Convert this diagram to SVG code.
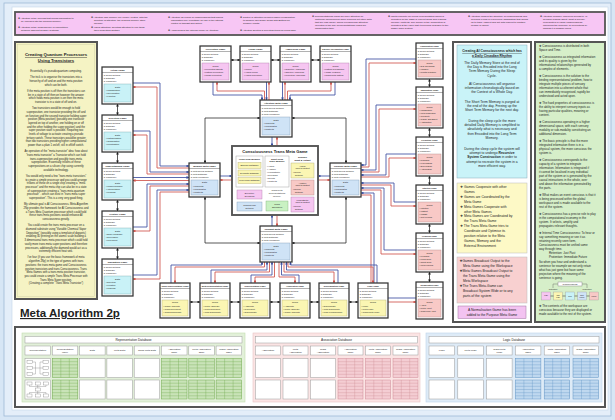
<svg xmlns="http://www.w3.org/2000/svg" width="615" height="420" viewBox="0 0 615 420">
<defs>
<style>
text{font-family:"Liberation Sans","DejaVu Sans",sans-serif;fill:#222}
.nb{fill:#fff;stroke:#333;stroke-width:1.25}
.hd{font-size:2.4px;font-weight:bold;text-anchor:middle}
.hs{font-size:2.05px;font-weight:bold;text-anchor:middle}
.it{font-size:2.15px}
.dt{font-size:2.4px;text-anchor:middle}
.sep{stroke:#3a3a3a;stroke-width:0.4}
.cy{fill:#c9f2f7;stroke:#7aaab0;stroke-width:0.4}
.pk{fill:#f6c6f1;stroke:#b07aa8;stroke-width:0.4}
.sa{fill:#f8c9c6;stroke:#b08886;stroke-width:0.4}
.ye{fill:#fbf6b3;stroke:#b0aa70;stroke-width:0.4}
.bl{fill:#cfe3f6;stroke:#7f9ab5;stroke-width:0.4}
.gr{fill:#c9f1c2;stroke:#7fae78;stroke-width:0.4}
.cb{fill:none;stroke:#3d4fa0;stroke-width:0.85}
.cr{fill:none;stroke:#d0544c;stroke-width:0.85}
.ck{fill:none;stroke:#222;stroke-width:0.75}
.bn{font-size:2.45px}
.lp{font-size:2.7px;text-anchor:middle}
.pt{font-size:3.35px}
.gt{font-size:2.95px}
.dbh{font-size:3.2px;text-anchor:middle}
.ch{font-size:2.45px;text-anchor:middle}
.cell{fill:#fff;stroke:#9a9a9a;stroke-width:0.5}
.ci{font-size:2.2px;text-anchor:middle}
.cib{font-size:2.3px;text-anchor:middle;font-weight:bold}
.fr{stroke:#555;stroke-width:2}
</style>
<marker id="mb" viewBox="0 0 4 4" refX="3.6" refY="2" markerWidth="2.8" markerHeight="2.8" orient="auto-start-reverse" markerUnits="userSpaceOnUse"><path d="M0,0 L4,2 L0,4z" fill="#3d4fa0"/></marker>
<marker id="mr" viewBox="0 0 4 4" refX="3.6" refY="2" markerWidth="2.8" markerHeight="2.8" orient="auto-start-reverse" markerUnits="userSpaceOnUse"><path d="M0,0 L4,2 L0,4z" fill="#d0544c"/></marker>
<marker id="mk" viewBox="0 0 4 4" refX="3.6" refY="2" markerWidth="2.8" markerHeight="2.8" orient="auto-start-reverse" markerUnits="userSpaceOnUse"><path d="M0,0 L4,2 L0,4z" fill="#222"/></marker>
<g id="tg"><rect width="25.5" height="19" fill="#c9e3b8" stroke="#6fa84b" stroke-width="0.5"/><path d="M0,3.2H25.5M0,6.3H25.5M0,9.5H25.5M0,12.7H25.5M0,15.8H25.5M8.5,0V19M17,0V19" stroke="#6fa84b" stroke-width="0.35"/></g>
<g id="tp"><rect width="25" height="19" fill="#f4cdd3" stroke="#cf8a95" stroke-width="0.5"/><path d="M0,3.2H25M0,6.3H25M0,9.5H25M0,12.7H25M0,15.8H25M8.3,0V19M16.7,0V19" stroke="#cf8a95" stroke-width="0.35"/></g>
<g id="tb"><rect width="25.5" height="19" fill="#bfd8ef" stroke="#5f93c4" stroke-width="0.5"/><path d="M0,3.2H25.5M0,6.3H25.5M0,9.5H25.5M0,12.7H25.5M0,15.8H25.5M8.5,0V19M17,0V19" stroke="#5f93c4" stroke-width="0.35"/></g>
</defs>

<!-- background frame -->
<rect x="0" y="0" width="615" height="420" fill="#d7e6f5"/>
<rect x="4" y="3" width="607" height="413" fill="#e4eef9" stroke="#9fb9d6" stroke-width="0.8"/>
<rect x="12" y="7" width="596" height="403" fill="#fff" stroke="#c4d5e8" stroke-width="0.6"/>

<!-- top banner -->
<g id="attention-notes">
<rect x="15" y="12" width="590" height="23" fill="#f7c6f4" stroke="#555" stroke-width="1.8"/>
<text class="bn"><tspan x="18" y="18.5">✥ Attention is the process that allows information to</tspan><tspan x="21" y="21.5">be encoded into the working memory.</tspan><tspan x="18" y="28">✥ Attention is the consequence of competition</tspan><tspan x="21" y="31">between different sensory systems.</tspan></text>
<text class="bn"><tspan x="91" y="17.5">✥ Attention and memory are closely related, with the</tspan><tspan x="94" y="20.5">direction of attention, the working memory store</tspan><tspan x="94" y="23.5">memory.</tspan><tspan x="91" y="28">✥ Visual attention: directing attention to one thing,</tspan><tspan x="94" y="31">then neglecting another.</tspan></text>
<text class="bn"><tspan x="168" y="18">✥ Attention as a form of consciousness that makes</tspan><tspan x="171" y="21">information fully reportable for use in the rational</tspan><tspan x="171" y="24">control of thought and action.</tspan><tspan x="168" y="31">✥ Awareness is the Internal Model of Attention.</tspan></text>
<text class="bn"><tspan x="240" y="18">✥ Control of attention needs dynamic collaboration</tspan><tspan x="243" y="21">to balance Top Down Goals with Bottom Up</tspan><tspan x="243" y="24">Sensory Inputs.</tspan><tspan x="240" y="31">✥ Attention Excited is selecting items for being gain.</tspan></text>
<text class="bn"><tspan x="312" y="17">✥ Representational Maps will have attention on</tspan><tspan x="315" y="20">particular phenomenon while blocking out other data</tspan><tspan x="315" y="23">that are less useful, which explains how attention</tspan><tspan x="315" y="26">operates in the way Representational Maps are</tspan><tspan x="315" y="29">manipulated then.</tspan></text>
<text class="bn"><tspan x="388" y="17">✥ Inputs compete for neural representation which is</tspan><tspan x="391" y="20">allocated on the basis of current goals and learning</tspan><tspan x="391" y="23">memory contexts. The winner of the competition is</tspan><tspan x="391" y="26">allocated at the value that it becomes available to the</tspan><tspan x="391" y="29">higher order system.</tspan></text>
<text class="bn"><tspan x="468" y="17">✥ Attention models the structure of consciousness and</tspan><tspan x="471" y="20">provides a kind of experience highlighting that allows</tspan><tspan x="471" y="23">us to track, inspect and act with respect to another</tspan><tspan x="471" y="26">person or object.</tspan></text>
<text class="bn"><tspan x="540" y="17">✥ Attention is simply improved access to, or</tspan><tspan x="543" y="20">decision making about, what is already</tspan><tspan x="543" y="23">represented in visual consciousness,</tspan><tspan x="543" y="26">improving the accuracy of perceptions by</tspan><tspan x="543" y="29">making it a possible focus.</tspan></text>
</g>

<!-- left panel -->
<g id="quantum-processors-note">
<rect class="fr" x="15" y="42" width="82" height="257" fill="#f5f3c4"/>
<rect x="17.5" y="44.5" width="77" height="252" fill="none" stroke="#c8c8a0" stroke-width="0.4"/>
<text x="56" y="56" style="font-size:4.3px;font-weight:bold;text-anchor:middle;text-decoration:underline">Creating Quantum Processors</text>
<text x="56" y="61.5" style="font-size:4.3px;font-weight:bold;text-anchor:middle;text-decoration:underline">Using Transistors</text>
<text class="lp"><tspan x="56" y="72">Essentially it's pseudo quantum computing.</tspan><tspan x="56" dy="6.2">The trick is to organise the transistors into a</tspan><tspan x="56" dy="3.7">hierarchy of off and on and the meta position</tspan><tspan x="56" dy="3.7">which can be both.</tspan><tspan x="56" dy="6.2">If the meta position is off then the transistors can</tspan><tspan x="56" dy="3.7">be in a state of off then on however the answer</tspan><tspan x="56" dy="3.7">which holds meta position is on then the meta</tspan><tspan x="56" dy="3.7">transistor is in a state of off and on.</tspan><tspan x="56" dy="6.2">Two transistors would be enough to hold</tspan><tspan x="56" dy="3.7">superposition, one transistor providing the off and</tspan><tspan x="56" dy="3.7">on function and the second transistor holding super</tspan><tspan x="56" dy="3.7">position (Meta position) (possibly one transistor</tspan><tspan x="56" dy="3.7">layered on top of another, one holding on or off</tspan><tspan x="56" dy="3.7">and the other holding the super position) and the</tspan><tspan x="56" dy="3.7">super position state is possible. Requiring two</tspan><tspan x="56" dy="3.7">levels of voltage to activate creating a pseudo</tspan><tspan x="56" dy="3.7">tertiary switch. These transistors would be greater</tspan><tspan x="56" dy="3.7">than two transistors providing higher computational</tspan><tspan x="56" dy="3.7">power than a plain 1 on/off, still in off/off switch.</tspan><tspan x="56" dy="6.2">An operation of the "meta-transistor" idea: how about</tspan><tspan x="56" dy="3.7">"trans meta transistor" a Transistor which can hold</tspan><tspan x="56" dy="3.7">trans-superposition and possibly trans-meta</tspan><tspan x="56" dy="3.7">superposition. Essentially trillions of these</tspan><tspan x="56" dy="3.7">superpositions on a silicon chip using currently</tspan><tspan x="56" dy="3.7">available technology.</tspan><tspan x="56" dy="6.2">You would only need a few "trans meta transistors"</tspan><tspan x="56" dy="3.7">to create a simple processor and you could arrange</tspan><tspan x="56" dy="3.7">trillions of these on a single chip creating a "meta</tspan><tspan x="56" dy="3.7">processor" and the meta chip can also be in a state</tspan><tspan x="56" dy="3.7">of superposition creating a "trans meta quantum</tspan><tspan x="56" dy="3.7">processor" - which can exist in "trans meta super</tspan><tspan x="56" dy="3.7">superposition". This is a very very good thing.</tspan><tspan x="56" dy="6.2">My ultimate goal is AI Consciousness. Meta Algorithm</tspan><tspan x="56" dy="3.7">2Np provides the framework for AI Consciousness and</tspan><tspan x="56" dy="3.7">a Trans Meta Quantum processor which could hold</tspan><tspan x="56" dy="3.7">these trans meta positions would enhance AI</tspan><tspan x="56" dy="3.7">consciousness greatly.</tspan><tspan x="56" dy="6.2">You could create the trans meta processor on a</tspan><tspan x="56" dy="3.7">diamond substrate using "Variable Chemical Vapor</tspan><tspan x="56" dy="3.7">Deposition" (possibly using a template of dopants)</tspan><tspan x="56" dy="3.7">enabling 3D printing on the atomic scale building a</tspan><tspan x="56" dy="3.7">3 dimensional trans meta processor which could hold</tspan><tspan x="56" dy="3.7">vastly more trans meta super positions and therefore</tspan><tspan x="56" dy="3.7">processors, additionally the diamond would act as a</tspan><tspan x="56" dy="3.7">extremely efficient heat sink.</tspan><tspan x="56" dy="6.2">I've four (if you use the basic framework of meta</tspan><tspan x="56" dy="3.7">algorithm 2Np) in the type of games with trans</tspan><tspan x="56" dy="3.7">positions: the trans meta game and Consciousness</tspan><tspan x="56" dy="3.7">position transistors and trans Consciousness. Trans</tspan><tspan x="56" dy="3.7">Meta Games with a trans meta position transistor,</tspan><tspan x="56" dy="3.7">you could create a simple Trans Meta Processor with</tspan><tspan x="56" dy="3.7">Trans Meta Super position.</tspan><tspan x="56" dy="3.7">(Creating a complete "Trans Meta Transistor")</tspan></text>
</g>

<!-- connectors -->
<g id="connectors">
<path class="cb" d="M213,82V95H262V100" marker-end="url(#mb)"/>
<path class="cr" d="M217,82V91H264.5V100" marker-start="url(#mr)"/>
<path class="cb" d="M266.5,82V100" marker-end="url(#mb)"/>
<path class="cr" d="M269,82V100" marker-start="url(#mr)"/>
<path class="cb" d="M282.5,82V100" marker-end="url(#mb)"/>
<path class="cr" d="M285,82V100" marker-start="url(#mr)"/>
<path class="cr" d="M331,82V91H287.5V100" marker-start="url(#mr)"/>
<path class="cb" d="M335,82V95H290V100" marker-end="url(#mb)"/>
<path class="cb" d="M272,137V146" marker-end="url(#mb)"/>
<path class="cr" d="M277,137V146" marker-start="url(#mr)"/>
<path class="cb" d="M220,176H232" marker-end="url(#mb)"/>
<path class="cr" d="M220,180H232" marker-start="url(#mr)"/>
<path class="cb" d="M330,176H318" marker-end="url(#mb)"/>
<path class="cr" d="M330,180H318" marker-start="url(#mr)"/>
<path class="cb" d="M272,226V215" marker-end="url(#mb)"/>
<path class="cr" d="M277,226V215" marker-start="url(#mr)"/>
<path class="ck" d="M260,118H205V163" marker-start="url(#mk)" marker-end="url(#mk)"/>
<path class="ck" d="M292,118H346V163" marker-start="url(#mk)" marker-end="url(#mk)"/>
<path class="ck" d="M205,197V243H260" marker-start="url(#mk)" marker-end="url(#mk)"/>
<path class="ck" d="M346,197V243H292" marker-start="url(#mk)" marker-end="url(#mk)"/>
<path class="cb" d="M133,83H160V166H189" marker-end="url(#mb)"/>
<path class="cr" d="M133,87H157V168H189" marker-start="url(#mr)"/>
<path class="cb" d="M133,131H150V172H189" marker-end="url(#mb)"/>
<path class="cr" d="M133,135H147V174H189" marker-start="url(#mr)"/>
<path class="cb" d="M133,177.5H189" marker-end="url(#mb)"/>
<path class="cr" d="M133,180.5H189" marker-start="url(#mr)"/>
<path class="cb" d="M133,227H147V184H189" marker-end="url(#mb)"/>
<path class="cr" d="M133,231H150V186H189" marker-start="url(#mr)"/>
<path class="cb" d="M133,275H157V190H189" marker-end="url(#mb)"/>
<path class="cr" d="M133,279H160V192H189" marker-start="url(#mr)"/>
<path class="cb" d="M416,59H366V165H361" marker-end="url(#mb)"/>
<path class="cr" d="M416,63H369V167H361" marker-start="url(#mr)"/>
<path class="cb" d="M416,105H376V170H361" marker-end="url(#mb)"/>
<path class="cr" d="M416,109H379V172H361" marker-start="url(#mr)"/>
<path class="cb" d="M416,154H386V175H361" marker-end="url(#mb)"/>
<path class="cr" d="M416,158H389V177H361" marker-start="url(#mr)"/>
<path class="cb" d="M416,202H394V183H361" marker-end="url(#mb)"/>
<path class="cr" d="M416,206H391V185H361" marker-start="url(#mr)"/>
<path class="cb" d="M416,250H384V188H361" marker-end="url(#mb)"/>
<path class="cr" d="M416,254H381V190H361" marker-start="url(#mr)"/>
<path class="cb" d="M416,298H374V193H361" marker-end="url(#mb)"/>
<path class="cr" d="M416,302H371V195H361" marker-start="url(#mr)"/>
<path class="cb" d="M171,283V265H262V262" marker-end="url(#mb)"/>
<path class="cr" d="M175,283V267H264.5V262" marker-start="url(#mr)"/>
<path class="cb" d="M211,283V270H267V262" marker-end="url(#mb)"/>
<path class="cr" d="M215,283V272H269.5V262" marker-start="url(#mr)"/>
<path class="cb" d="M251,283V275H272V262" marker-end="url(#mb)"/>
<path class="cr" d="M255,283V277H274.5V262" marker-start="url(#mr)"/>
<path class="cr" d="M295,283V277H279V262" marker-start="url(#mr)"/>
<path class="cb" d="M299,283V275H281.5V262" marker-end="url(#mb)"/>
<path class="cr" d="M334,283V272H284V262" marker-start="url(#mr)"/>
<path class="cb" d="M338,283V270H286.5V262" marker-end="url(#mb)"/>
<path class="cr" d="M373,283V267H288V262" marker-start="url(#mr)"/>
<path class="cb" d="M377,283V265H290.5V262" marker-end="url(#mb)"/>
<path class="ck" d="M231,60H240" marker-start="url(#mk)" marker-end="url(#mk)"/>
<path class="ck" d="M271,60H280" marker-start="url(#mk)" marker-end="url(#mk)"/>
<path class="ck" d="M311,60H320" marker-start="url(#mk)" marker-end="url(#mk)"/>
<path class="ck" d="M117.5,104V115" marker-start="url(#mk)" marker-end="url(#mk)"/>
<path class="ck" d="M117.5,152V163" marker-start="url(#mk)" marker-end="url(#mk)"/>
<path class="ck" d="M117.5,200V211" marker-start="url(#mk)" marker-end="url(#mk)"/>
<path class="ck" d="M117.5,248V259" marker-start="url(#mk)" marker-end="url(#mk)"/>
<path class="ck" d="M429.5,79V87" marker-start="url(#mk)" marker-end="url(#mk)"/>
<path class="ck" d="M429.5,128V137" marker-start="url(#mk)" marker-end="url(#mk)"/>
<path class="ck" d="M429.5,176V185" marker-start="url(#mk)" marker-end="url(#mk)"/>
<path class="ck" d="M429.5,224V233" marker-start="url(#mk)" marker-end="url(#mk)"/>
<path class="ck" d="M429.5,272V282" marker-start="url(#mk)" marker-end="url(#mk)"/>
<path class="ck" d="M190,302H200" marker-start="url(#mk)" marker-end="url(#mk)"/>
<path class="ck" d="M230,302H240" marker-start="url(#mk)" marker-end="url(#mk)"/>
<path class="ck" d="M270,302H280" marker-start="url(#mk)" marker-end="url(#mk)"/>
<path class="ck" d="M310,302H319" marker-start="url(#mk)" marker-end="url(#mk)"/>
<path class="ck" d="M349,302H358" marker-start="url(#mk)" marker-end="url(#mk)"/>
</g>

<!-- top row games -->
<g id="perception-game"><rect class="nb" x="200" y="46" width="31" height="36"/><text class="hd" x="215.5" y="50">Perception Game</text><line class="sep" x1="200" y1="51.5" x2="231" y2="51.5"/><text class="it" x="202" y="55">▸ Neural Network</text><text class="it" x="202" y="58">▸ Database</text><text class="it" x="202" y="61">▸ Workspace</text><rect class="pk" x="202" y="63" width="27" height="17"/><text class="dt" x="215.5" y="66.5">Rules</text><text class="it" x="204" y="70">• Perceptual Effects</text><text class="it" x="204" y="73">• Pattern Perception</text><text class="it" x="204" y="76">• Cross Perception</text></g>
<g id="visual-game"><rect class="nb" x="240" y="46" width="31" height="36"/><text class="hd" x="255.5" y="50">Visual Game</text><line class="sep" x1="240" y1="51.5" x2="271" y2="51.5"/><text class="it" x="242" y="55">▸ Neural Network</text><text class="it" x="242" y="58">▸ Database</text><text class="it" x="242" y="61">▸ Workspace</text><rect class="pk" x="242" y="63" width="27" height="17"/><text class="dt" x="255.5" y="66.5">Rules</text><text class="it" x="244" y="70">• Colour</text><text class="it" x="244" y="73">• Visual Focus</text><text class="it" x="244" y="76">• Visual Perception</text></g>
<g id="awareness-game"><rect class="nb" x="280" y="46" width="31" height="36"/><text class="hd" x="295.5" y="50">Awareness Game</text><line class="sep" x1="280" y1="51.5" x2="311" y2="51.5"/><text class="it" x="282" y="55">▸ Neural Network</text><text class="it" x="282" y="58">▸ Database</text><text class="it" x="282" y="61">▸ Workspace</text><rect class="pk" x="282" y="63" width="27" height="17"/><text class="dt" x="295.5" y="66.5">Rules</text><text class="it" x="284" y="70" style="font-size:2px">• Subjective Awareness</text><text class="it" x="284" y="73" style="font-size:2px">• Objective Awareness</text><text class="it" x="284" y="76" style="font-size:2px">• Perceptual Awareness</text></g>
<g id="salience-recognition-game"><rect class="nb" x="320" y="46" width="31" height="36"/><text class="hs" x="335.5" y="50">Salience Recognition Game</text><line class="sep" x1="320" y1="51.5" x2="351" y2="51.5"/><text class="it" x="322" y="55">▸ Neural Network</text><text class="it" x="322" y="58">▸ Database</text><text class="it" x="322" y="61">▸ Workspace</text><rect class="pk" x="322" y="63" width="27" height="17"/><text class="dt" x="335.5" y="66.5">Rules</text><text class="it" x="324" y="70">• Pattern Recognition</text><text class="it" x="324" y="73">• Image Features</text><text class="it" x="324" y="76">• Trans Meta Pattern</text></g>

<!-- meta games -->
<g id="attention-meta-game"><rect class="nb" x="260" y="100" width="32" height="37"/><text class="hd" x="276" y="104">Attention Meta Game</text><line class="sep" x1="260" y1="105.5" x2="292" y2="105.5"/><text class="it" x="262" y="109">▸ Meta Neural Network</text><text class="it" x="262" y="112">▸ Meta Database</text><text class="it" x="262" y="115">▸ Meta Workspace</text><rect class="bl" x="262" y="117" width="28" height="18"/><text class="dt" x="276" y="120.5">Data</text><text class="it" x="264" y="124">• Concepts</text><text class="it" x="264" y="127">• Coordinates</text><text class="it" x="264" y="130">• Contexts</text></g>
<g id="memory-meta-game"><rect class="nb" x="189" y="163" width="31" height="34"/><text class="hd" x="204.5" y="167">Memory Meta Game</text><line class="sep" x1="189" y1="168.5" x2="220" y2="168.5"/><text class="it" x="191" y="172">▸ Meta Neural Network</text><text class="it" x="191" y="175">▸ Meta Database</text><text class="it" x="191" y="178">▸ Meta Workspace</text><rect class="bl" x="191" y="180" width="27" height="15"/><text class="dt" x="204.5" y="183.3">Data</text><text class="it" x="193" y="186.6">• Concepts</text><text class="it" x="193" y="189.6">• Coordinates</text><text class="it" x="193" y="192.6">• Contexts</text></g>
<g id="purpose-meta-game"><rect class="nb" x="330" y="163" width="31" height="34"/><text class="hd" x="345.5" y="167">Purpose Meta Game</text><line class="sep" x1="330" y1="168.5" x2="361" y2="168.5"/><text class="it" x="332" y="172">▸ Meta Neural Network</text><text class="it" x="332" y="175">▸ Meta Database</text><text class="it" x="332" y="178">▸ Meta Workspace</text><rect class="bl" x="332" y="180" width="27" height="15"/><text class="dt" x="345.5" y="183.3">Data</text><text class="it" x="334" y="186.6">• Concepts</text><text class="it" x="334" y="189.6">• Coordinates</text><text class="it" x="334" y="192.6">• Contexts</text></g>
<g id="thought-meta-game"><rect class="nb" x="260" y="226" width="32" height="36"/><text class="hd" x="276" y="230">Thought Meta Game</text><line class="sep" x1="260" y1="231.5" x2="292" y2="231.5"/><text class="it" x="262" y="235">▸ Meta Neural Network</text><text class="it" x="262" y="238">▸ Meta Database</text><text class="it" x="262" y="241">▸ Meta Workspace</text><rect class="bl" x="262" y="243" width="28" height="17"/><text class="dt" x="276" y="246.5">Data</text><text class="it" x="264" y="250">• Concepts</text><text class="it" x="264" y="253">• Coordinates</text><text class="it" x="264" y="256">• Contexts</text></g>

<!-- consciousness trans meta game -->
<g id="consciousness-trans-meta-game">
<rect x="232" y="146" width="86" height="69" fill="#fff" stroke="#555" stroke-width="1.9"/>
<text x="275" y="153" style="font-size:4.1px;font-weight:bold;text-anchor:middle">Consciousness Trans Meta Game</text>
<rect x="236" y="156" width="27" height="31" fill="#fff" stroke="#9a9a9a" stroke-width="0.45"/>
<text class="cib" x="249.5" y="160">Long Term Memory</text>
<rect class="ye" x="238" y="162.5" width="23" height="6"/><text class="ci" x="249.5" y="166.3">Episodic Database</text>
<rect class="ye" x="238" y="170" width="23" height="6"/><text class="ci" x="249.5" y="173.8">Semantic Database</text>
<rect class="ye" x="238" y="177.5" width="23" height="6"/><text class="ci" x="249.5" y="181.3">Procedural Database</text>
<rect class="pk" x="237" y="190" width="25" height="9"/><text class="ci" x="249.5" y="193.8">Executive</text><text class="ci" x="249.5" y="196.6">Decisions</text>
<rect class="bl" x="237" y="202" width="25" height="9"/><text class="ci" x="249.5" y="205.8">Trans Neural</text><text class="ci" x="249.5" y="208.6">Network</text>
<rect x="265" y="156" width="24" height="31" fill="#fff" stroke="#9a9a9a" stroke-width="0.45"/>
<text class="cib" x="277" y="159.5">Short Term</text><text class="cib" x="277" y="162.3">Daily Memory</text>
<text class="it" x="267" y="166.5">• Visual</text><text class="it" x="267" y="169.5">• Auditory</text><text class="it" x="267" y="172.5">• Kinaesthetic</text><text class="it" x="267" y="175.5">• Decisions</text><text class="it" x="267" y="178.5">• Events</text><text class="it" x="267" y="181.5">• Contexts</text>
<text class="ci" x="277" y="191">Trans Meta</text><text class="ci" x="277" y="194">Representational</text><text class="ci" x="277" y="197">Memory</text>
<rect class="gr" x="266" y="201" width="22" height="10"/><text class="ci" x="277" y="205.3">Trans</text><text class="ci" x="277" y="208.3">Simulation</text>
<text class="cib" x="302.5" y="157.5">Sensory</text><text class="cib" x="302.5" y="160.5">Input &amp; Output</text>
<rect class="ye" x="291" y="163" width="23" height="15"/><text class="ci" x="302.5" y="166.5">Visual</text><text class="ci" x="302.5" y="169.3">Input &amp; Output</text><text class="it" x="293" y="173">• Neural</text><text class="it" x="295" y="175.8">Network</text>
<rect class="sa" x="291" y="180" width="23" height="15"/><text class="ci" x="302.5" y="183.5">Auditory</text><text class="ci" x="302.5" y="186.3">Input &amp; Output</text><text class="it" x="293" y="190">• Neural</text><text class="it" x="295" y="192.8">Network</text>
<rect class="pk" x="291" y="197" width="23" height="15"/><text class="ci" x="302.5" y="200.5">Kinaesthetic</text><text class="ci" x="302.5" y="203.3">Input &amp; Output</text><text class="it" x="293" y="207">• Neural</text><text class="it" x="295" y="209.8">Network</text>
</g>

<!-- left column games -->
<g id="action-game"><rect class="nb" x="102" y="67" width="31" height="37"/><text class="hd" x="117.5" y="71">Action Game</text><line class="sep" x1="102" y1="72.5" x2="133" y2="72.5"/><text class="it" x="104" y="76">▸ Neural Network</text><text class="it" x="104" y="79">▸ Database</text><text class="it" x="104" y="82">▸ Workspace</text><rect class="cy" x="104" y="84" width="27" height="18"/><text class="dt" x="117.5" y="87.5">Data</text><text class="it" x="106" y="91">• Classification</text><text class="it" x="106" y="94">• Specification</text><text class="it" x="106" y="97">• Function</text></g>
<g id="selection-game"><rect class="nb" x="102" y="115" width="31" height="37"/><text class="hd" x="117.5" y="119">Selection Game</text><line class="sep" x1="102" y1="120.5" x2="133" y2="120.5"/><text class="it" x="104" y="124">▸ Neural Network</text><text class="it" x="104" y="127">▸ Database</text><text class="it" x="104" y="130">▸ Workspace</text><rect class="cy" x="104" y="132" width="27" height="18"/><text class="dt" x="117.5" y="135.5">Data</text><text class="it" x="106" y="139">• Categorisation</text><text class="it" x="106" y="142">• Organisation</text><text class="it" x="106" y="145">• Prioritisation</text></g>
<g id="understanding-game"><rect class="nb" x="102" y="163" width="31" height="37"/><text class="hd" x="117.5" y="167">Understanding Game</text><line class="sep" x1="102" y1="168.5" x2="133" y2="168.5"/><text class="it" x="104" y="172">▸ Neural Network</text><text class="it" x="104" y="175">▸ Database</text><text class="it" x="104" y="178">▸ Workspace</text><rect class="cy" x="104" y="180" width="27" height="18"/><text class="dt" x="117.5" y="183.5">Data</text><text class="it" x="106" y="187">• Comprehension</text><text class="it" x="106" y="190">• Interpretation</text><text class="it" x="106" y="193">• Meaning</text></g>
<g id="gesture-game"><rect class="nb" x="102" y="211" width="31" height="37"/><text class="hd" x="117.5" y="215">Gesture Game</text><line class="sep" x1="102" y1="216.5" x2="133" y2="216.5"/><text class="it" x="104" y="220">▸ Neural Network</text><text class="it" x="104" y="223">▸ Database</text><text class="it" x="104" y="226">▸ Workspace</text><rect class="cy" x="104" y="228" width="27" height="18"/><text class="dt" x="117.5" y="231.5">Data</text><text class="it" x="106" y="235">• Body Language</text><text class="it" x="106" y="238">• Expression</text><text class="it" x="106" y="241">• Movement</text></g>
<g id="navigation-game"><rect class="nb" x="102" y="259" width="31" height="37"/><text class="hd" x="117.5" y="263">Navigation Game</text><line class="sep" x1="102" y1="264.5" x2="133" y2="264.5"/><text class="it" x="104" y="268">▸ Neural Network</text><text class="it" x="104" y="271">▸ Database</text><text class="it" x="104" y="274">▸ Workspace</text><rect class="cy" x="104" y="276" width="27" height="18"/><text class="dt" x="117.5" y="279.5">Data</text><text class="it" x="106" y="283">• Direction</text><text class="it" x="106" y="286">• Location</text><text class="it" x="106" y="289">• Mapping</text></g>

<!-- right column games -->
<g id="visualisation-game"><rect class="nb" x="416" y="43" width="27" height="36"/><text class="hs" x="429.5" y="47">Visualisation Game</text><line class="sep" x1="416" y1="48.5" x2="443" y2="48.5"/><text class="it" x="418" y="52">▸ Neural Network</text><text class="it" x="418" y="55">▸ Database</text><text class="it" x="418" y="58">▸ Workspace</text><rect class="sa" x="418" y="60" width="23" height="17"/><text class="dt" x="429.5" y="63.5">Rules</text><text class="it" x="419.5" y="67">• Day Dreaming</text><text class="it" x="419.5" y="70">• Imagery</text><text class="it" x="419.5" y="73">• Mental Rotation</text></g>
<g id="imagination-game"><rect class="nb" x="416" y="87" width="27" height="41"/><text class="hs" x="429.5" y="91">Imagination Game</text><line class="sep" x1="416" y1="92.5" x2="443" y2="92.5"/><text class="it" x="418" y="96">▸ Neural Network</text><text class="it" x="418" y="99">▸ Database</text><text class="it" x="418" y="102">▸ Workspace</text><rect class="sa" x="418" y="104" width="23" height="22"/><text class="dt" x="429.5" y="107.5">Rules</text><text class="it" x="419.5" y="111">• Imagination</text><text class="it" x="419.5" y="114" style="font-size:1.95px">• Meta Imagination</text><text class="it" x="419.5" y="117">• Creativity</text><text class="it" x="419.5" y="120">• Cause and Effect</text><text class="it" x="419.5" y="123">• Abstraction</text></g>
<g id="prediction-game"><rect class="nb" x="416" y="137" width="27" height="39"/><text class="hs" x="429.5" y="141">Prediction Game</text><line class="sep" x1="416" y1="142.5" x2="443" y2="142.5"/><text class="it" x="418" y="146">▸ Neural Network</text><text class="it" x="418" y="149">▸ Database</text><text class="it" x="418" y="152">▸ Workspace</text><rect class="sa" x="418" y="154" width="23" height="20"/><text class="dt" x="429.5" y="157.5">Rules</text><text class="it" x="419.5" y="161">• Planning</text><text class="it" x="419.5" y="164">• Forecasting</text><text class="it" x="419.5" y="167">• Expectation</text><text class="it" x="419.5" y="170">• Anticipation</text></g>
<g id="intuition-game"><rect class="nb" x="416" y="185" width="27" height="39"/><text class="hs" x="429.5" y="189">Intuition Game</text><line class="sep" x1="416" y1="190.5" x2="443" y2="190.5"/><text class="it" x="418" y="194">▸ Neural Network</text><text class="it" x="418" y="197">▸ Database</text><text class="it" x="418" y="200">▸ Workspace</text><rect class="sa" x="418" y="202" width="23" height="20"/><text class="dt" x="429.5" y="205.5">Rules</text><text class="it" x="419.5" y="209">• Intuition</text><text class="it" x="419.5" y="212">• Instinct</text><text class="it" x="419.5" y="215">• Insight</text><text class="it" x="419.5" y="218">• Gut Feeling</text></g>
<g id="learning-game"><rect class="nb" x="416" y="233" width="27" height="39"/><text class="hs" x="429.5" y="237">Learning Game</text><line class="sep" x1="416" y1="238.5" x2="443" y2="238.5"/><text class="it" x="418" y="242">▸ Neural Network</text><text class="it" x="418" y="245">▸ Database</text><text class="it" x="418" y="248">▸ Workspace</text><rect class="sa" x="418" y="250" width="23" height="20"/><text class="dt" x="429.5" y="253.5">Rules</text><text class="it" x="419.5" y="257">• Learning</text><text class="it" x="419.5" y="260">• Long Term</text><text class="it" x="419.5" y="263">• Short Term</text><text class="it" x="419.5" y="266" style="font-size:1.95px">• Meta Learning</text></g>
<g id="normalisation-game"><rect class="nb" x="416" y="282" width="27" height="37"/><text class="hs" x="429.5" y="286" style="font-size:1.85px">Normalisation Game</text><line class="sep" x1="416" y1="287.5" x2="443" y2="287.5"/><text class="it" x="418" y="291">▸ Neural Network</text><text class="it" x="418" y="294">▸ Database</text><text class="it" x="418" y="297">▸ Workspace</text><rect class="sa" x="418" y="299" width="23" height="18"/><text class="dt" x="429.5" y="302.5">Rules</text><text class="it" x="419.5" y="306">• Affect</text><text class="it" x="419.5" y="309">• Meta Affect</text><text class="it" x="419.5" y="312" style="font-size:1.95px">• Trans Meta Affect</text></g>

<!-- bottom row games -->
<g id="trans-representation-game"><rect class="nb" x="160" y="283" width="30" height="35"/><text class="hs" x="175" y="287">Trans Representation Game</text><line class="sep" x1="160" y1="288.5" x2="190" y2="288.5"/><text class="it" x="162" y="292">▸ Neural Network</text><text class="it" x="162" y="295">▸ Database</text><text class="it" x="162" y="298">▸ Workspace</text><rect class="ye" x="162" y="300" width="26" height="16"/><text class="dt" x="175" y="303.3">Rules</text><text class="it" x="163.5" y="306.6">• Trans Associate</text><text class="it" x="163.5" y="309.6">• Trans Represent</text><text class="it" x="163.5" y="312.6" style="font-size:2px">• Trans Discriminate</text></g>
<g id="meta-representation-game"><rect class="nb" x="200" y="283" width="30" height="35"/><text class="hs" x="215" y="287">Meta Representation Game</text><line class="sep" x1="200" y1="288.5" x2="230" y2="288.5"/><text class="it" x="202" y="292">▸ Neural Network</text><text class="it" x="202" y="295">▸ Database</text><text class="it" x="202" y="298">▸ Workspace</text><rect class="ye" x="202" y="300" width="26" height="16"/><text class="dt" x="215" y="303.3">Rules</text><text class="it" x="203.5" y="306.6">• Meta Associate</text><text class="it" x="203.5" y="309.6">• Meta Represent</text><text class="it" x="203.5" y="312.6" style="font-size:2px">• Meta Discriminate</text></g>
<g id="representation-game"><rect class="nb" x="240" y="283" width="30" height="35"/><text class="hs" x="255" y="287">Representation Game</text><line class="sep" x1="240" y1="288.5" x2="270" y2="288.5"/><text class="it" x="242" y="292">▸ Neural Network</text><text class="it" x="242" y="295">▸ Database</text><text class="it" x="242" y="298">▸ Workspace</text><rect class="ye" x="242" y="300" width="26" height="16"/><text class="dt" x="255" y="303.3">Rules</text><text class="it" x="243.5" y="306.6">• Associate</text><text class="it" x="243.5" y="309.6">• Represent</text><text class="it" x="243.5" y="312.6">• Discriminate</text></g>
<g id="association-game"><rect class="nb" x="280" y="283" width="30" height="35"/><text class="hs" x="295" y="287">Association Game</text><line class="sep" x1="280" y1="288.5" x2="310" y2="288.5"/><text class="it" x="282" y="292">▸ Neural Network</text><text class="it" x="282" y="295">▸ Database</text><text class="it" x="282" y="298">▸ Workspace</text><rect class="ye" x="282" y="300" width="26" height="16"/><text class="dt" x="295" y="303.3">Rules</text><text class="it" x="283.5" y="306.6">• Associate</text><text class="it" x="283.5" y="309.6">• Meta Associate</text><text class="it" x="283.5" y="312.6">• Trans Associate</text></g>
<g id="discrimination-game"><rect class="nb" x="319" y="283" width="30" height="35"/><text class="hs" x="334" y="287">Discrimination Game</text><line class="sep" x1="319" y1="288.5" x2="349" y2="288.5"/><text class="it" x="321" y="292">▸ Neural Network</text><text class="it" x="321" y="295">▸ Database</text><text class="it" x="321" y="298">▸ Workspace</text><rect class="ye" x="321" y="300" width="26" height="16"/><text class="dt" x="334" y="303.3">Rules</text><text class="it" x="322.5" y="306.6">• Discriminate</text><text class="it" x="322.5" y="309.6" style="font-size:2px">• Meta Discriminate</text><text class="it" x="322.5" y="312.6" style="font-size:1.75px">• Trans Meta Discriminate</text></g>
<g id="logic-game"><rect class="nb" x="358" y="283" width="30" height="35"/><text class="hs" x="373" y="287">Logic Game</text><line class="sep" x1="358" y1="288.5" x2="388" y2="288.5"/><text class="it" x="360" y="292">▸ Neural Network</text><text class="it" x="360" y="295">▸ Database</text><text class="it" x="360" y="298">▸ Workspace</text><rect class="ye" x="360" y="300" width="26" height="16"/><text class="dt" x="373" y="303.3">Rules</text><text class="it" x="361.5" y="306.6">• Logic</text><text class="it" x="361.5" y="309.6">• Meta Logic</text><text class="it" x="361.5" y="312.6">• Trans Meta Logic</text></g>

<!-- right notes frame -->
<g id="circadian-notes">
<rect class="fr" x="453" y="42" width="78" height="280" fill="#fff"/>
<rect x="457" y="45" width="70" height="133" fill="#c9f3f8" stroke="#8ab" stroke-width="0.5"/>
<text x="492" y="52" style="font-size:3.3px;font-weight:bold;text-anchor:middle;text-decoration:underline">Creating AI Consciousness which has</text>
<text x="492" y="56.5" style="font-size:3.3px;font-weight:bold;text-anchor:middle;text-decoration:underline">a Daily Circadian Rhythm</text>
<text class="pt" style="text-anchor:middle"><tspan x="492" y="64">The Daily Memory Store at the end of</tspan><tspan x="492" dy="4.2">the Day is Encoded into the Long</tspan><tspan x="492" dy="4.2">Term Memory During the Sleep</tspan><tspan x="492" dy="4.2">Cycle.</tspan><tspan x="492" y="85">AI Consciousness will organise</tspan><tspan x="492" dy="4.2">information chronologically based on</tspan><tspan x="492" dy="4.2">the Context of a Whole Day.</tspan><tspan x="492" y="103">The Short Term Memory is purged at</tspan><tspan x="492" dy="4.2">the end of the day. Freeing up the</tspan><tspan x="492" dy="4.2">Short Term Memory for the next day.</tspan><tspan x="492" y="122">During the sleep cycle the more</tspan><tspan x="492" dy="4.2">detailed Daily Memory is simplified to</tspan><tspan x="492" dy="4.2">absolutely what is necessary and</tspan><tspan x="492" dy="4.2">then Encoded into the Long Term</tspan><tspan x="492" dy="4.2">Memory.</tspan><tspan x="492" y="150">During the sleep cycle the system will</tspan><tspan x="492" dy="4.2">attempt to undergo <tspan font-weight="bold">Recursive</tspan></tspan><tspan x="492" dy="4.2"><tspan font-weight="bold">System Construction</tspan> in order to</tspan><tspan x="492" dy="4.2">attempt to recreate the system in a</tspan><tspan x="492" dy="4.2">more efficient way.</tspan></text>
<rect x="457" y="183" width="70" height="70" fill="#fdf9c6" stroke="#bbb" stroke-width="0.5"/>
<text class="pt"><tspan x="460" y="188">❖ Games Cooperate with other</tspan><tspan x="464" dy="4.9">Games</tspan><tspan x="460" dy="4.9">❖ Games are Coordinated by the</tspan><tspan x="464" dy="4.9">Meta Game</tspan><tspan x="460" dy="4.9">❖ Meta Games Cooperate with</tspan><tspan x="464" dy="4.9">other Meta Games</tspan><tspan x="460" dy="4.9">❖ Meta Games are Coordinated by</tspan><tspan x="464" dy="4.9">the Trans Meta Game</tspan><tspan x="460" dy="4.9">❖ The Trans Meta Game tries to</tspan><tspan x="464" dy="4.9">Coordinate and Optimise its</tspan><tspan x="464" dy="4.9">position relative to the Meta</tspan><tspan x="464" dy="4.9">Games, Memory and the</tspan><tspan x="464" dy="4.9">External Environment</tspan></text>
<rect x="457" y="257" width="70" height="46" fill="#f8d0d0" stroke="#bbb" stroke-width="0.5"/>
<text class="pt"><tspan x="459.5" y="262">❖Games Broadcast Output to the</tspan><tspan x="463" dy="5">Meta Game using the Workspace</tspan><tspan x="459.5" dy="5">❖Meta Games Broadcast Output to</tspan><tspan x="463" dy="5">the Trans Meta Game using the</tspan><tspan x="463" dy="5">Meta Workspace</tspan><tspan x="459.5" dy="5">❖The Trans Meta-Game can</tspan><tspan x="463" dy="5">Broadcast System Wide or to any</tspan><tspan x="463" dy="5">parts of the system</tspan></text>
<rect x="458" y="306" width="68" height="12.5" fill="#f3c3f1" stroke="#a070a0" stroke-width="0.5"/>
<text class="pt" style="text-anchor:middle"><tspan x="492" y="311">A Normalisation Game has been</tspan><tspan x="492" y="315.6">added to the Purpose Meta Game</tspan></text>
</g>

<!-- green notes -->
<g id="consciousness-notes">
<rect class="fr" x="535" y="42" width="70" height="280" fill="#d6efc9"/>
<text class="gt"><tspan x="539" y="47">✥ Consciousness is distributed in both</tspan><tspan x="539" dy="4">Space and Time.</tspan><tspan x="539" y="58">✥ Consciousness as integrated information</tspan><tspan x="539" dy="4">and its quality is given by the</tspan><tspan x="539" dy="4">informational relationships generated by</tspan><tspan x="539" dy="4">a complex of elements.</tspan><tspan x="539" y="77">✥ Consciousness is the solution to the</tspan><tspan x="539" dy="4">binding representational problem, how to</tspan><tspan x="539" dy="4">integrate multiple pieces of sensory</tspan><tspan x="539" dy="4">information into a coherent whole that</tspan><tspan x="539" dy="4">can immediately recognised, rapidly be</tspan><tspan x="539" dy="4">understood and acted upon.</tspan><tspan x="539" y="104">✥ The hard properties of consciousness is</tspan><tspan x="539" dy="4">the ability to interpret sensory inputs as</tspan><tspan x="539" dy="4">having particular qualities, meaning or</tspan><tspan x="539" dy="4">content.</tspan><tspan x="539" y="123">✥ Consciousness operating in a higher</tspan><tspan x="539" dy="4">dimensional space, with each sensory</tspan><tspan x="539" dy="4">modality or sub-modality constituting an</tspan><tspan x="539" dy="4">additional dimension.</tspan><tspan x="539" y="142">✥ The basic principle is that the more</tspan><tspan x="539" dy="4">integrated information there is in a</tspan><tspan x="539" dy="4">physical system, the more conscious the</tspan><tspan x="539" dy="4">system is.</tspan><tspan x="539" y="161">✥ Consciousness corresponds to the</tspan><tspan x="539" dy="4">capacity of a system to integrate</tspan><tspan x="539" dy="4">information. Information is integrated if</tspan><tspan x="539" dy="4">it cannot be localised in any individual</tspan><tspan x="539" dy="4">part of the system or is generated by the</tspan><tspan x="539" dy="4">causal interactions in the whole, over</tspan><tspan x="539" dy="4">and above the information generated by</tspan><tspan x="539" dy="4">the parts.</tspan><tspan x="539" y="196">✥ What makes an event conscious is that it</tspan><tspan x="539" dy="4">is being processed within the global</tspan><tspan x="539" dy="4">workspace and is made available to the</tspan><tspan x="539" dy="4">rest of the system.</tspan><tspan x="539" y="215">✥ Consciousness has a precise role to play</tspan><tspan x="539" dy="4">in the computational economy in the</tspan><tspan x="539" dy="4">system. It selects, amplify and</tspan><tspan x="539" dy="4">propagates relevant thoughts.</tspan><tspan x="539" y="234">✥ Internal Time Consciousness: To hear or</tspan><tspan x="539" dy="4">say something meaning or see it as</tspan><tspan x="539" dy="4">retaining recently seen form,</tspan><tspan x="539" dy="4">Consciousness must be unified some</tspan><tspan x="539" dy="4">way through time.</tspan><tspan x="549" dy="4">Retention: Just Past</tspan><tspan x="549" dy="4">Protention: Immediate Future</tspan><tspan x="539" dy="5">So when you hear and understand a</tspan><tspan x="539" dy="4">sentence for example we not only retain</tspan><tspan x="539" dy="4">what has just gone but have some</tspan><tspan x="539" dy="4">projection where the meaning of the</tspan><tspan x="539" dy="4">sentence is going.</tspan><tspan x="539" y="307">✥ The contents of the workspace are</tspan><tspan x="539" dy="4">conscious because they are displayed or</tspan><tspan x="539" dy="4">made available to the rest of the system.</tspan></text>
<rect x="558" y="282" width="24" height="4" fill="#fff" stroke="#777" stroke-width="0.4"/>
<text x="570" y="285" style="font-size:2.2px;text-anchor:middle">Consciousness</text>
<path d="M558,284H553V288M582,284H587V288" fill="none" stroke="#555" stroke-width="0.4"/>
<text x="553" y="290" style="font-size:2px;text-anchor:middle">Retention</text>
<text x="587" y="290" style="font-size:2px;text-anchor:middle">Protention</text>
<rect x="541.5" y="292" width="9" height="8" fill="#f6c6f1" stroke="#999" stroke-width="0.35"/>
<rect x="553.5" y="292" width="9" height="8" fill="#fbf6b3" stroke="#999" stroke-width="0.35"/>
<rect x="565.5" y="292" width="9" height="8" fill="#c9f2f7" stroke="#999" stroke-width="0.35"/>
<rect x="577.5" y="292" width="9" height="8" fill="#cfe3f6" stroke="#999" stroke-width="0.35"/>
<rect x="589.5" y="292" width="9" height="8" fill="#f8c9c6" stroke="#999" stroke-width="0.35"/>
<text style="font-size:1.7px;text-anchor:middle"><tspan x="546" y="295.5">Past</tspan><tspan x="558" y="295.5">Just</tspan><tspan x="558" y="297.7">Past</tspan><tspan x="570" y="296.5">Now</tspan><tspan x="582" y="295.5">Near</tspan><tspan x="582" y="297.7">Future</tspan><tspan x="594" y="296.5">Future</tspan></text>
<path d="M550.5,296H553.5M562.5,296H565.5M574.5,296H577.5M586.5,296H589.5" stroke="#222" stroke-width="0.5"/>
</g>

<!-- title -->
<text x="20" y="317" style="font-size:11.5px;font-weight:bold;text-decoration:underline">Meta Algorithm 2p</text>

<!-- databases -->
<g id="databases">
<rect class="fr" x="15" y="327" width="590" height="80" fill="#fff"/>
<g id="representation-database">
<rect x="22" y="333" width="223" height="69" fill="#e2f0d9" stroke="#c2dcb0" stroke-width="0.6"/>
<rect class="cell" x="25" y="336.5" width="217" height="6.5"/>
<text class="dbh" x="133.5" y="341.2">Representation Database</text>
<rect class="cell" x="25" y="346" width="25.5" height="9"/><text class="ch" x="37.75" y="351.3">Representation</text>
<rect class="cell" x="52.3" y="346" width="25.5" height="9"/><text class="ch" x="65.05" y="349.9">Representation</text><text class="ch" x="65.05" y="352.9">Index</text>
<rect class="cell" x="79.6" y="346" width="25.5" height="9"/><text class="ch" x="92.35" y="351.3">Data</text>
<rect class="cell" x="106.9" y="346" width="25.5" height="9"/><text class="ch" x="119.65" y="351.3">Meta Data</text>
<rect class="cell" x="134.2" y="346" width="25.5" height="9"/><text class="ch" x="146.95" y="351.3">Trans Meta Data</text>
<rect class="cell" x="161.5" y="346" width="25.5" height="9"/><text class="ch" x="174.25" y="349.9">Association</text><text class="ch" x="174.25" y="352.9">Table</text>
<rect class="cell" x="188.8" y="346" width="25.5" height="9"/><text class="ch" x="201.55" y="349.9">Meta Association</text><text class="ch" x="201.55" y="352.9">Table</text>
<rect class="cell" x="216.1" y="346" width="25.5" height="9"/><text class="ch" x="228.85" y="349.9">Trans Association</text><text class="ch" x="228.85" y="352.9">Table</text>
<rect class="cell" x="25" y="358.5" width="25.5" height="19"/>
<g fill="#fff" stroke="#777" stroke-width="0.35"><rect x="27" y="360.5" width="5.5" height="3"/><rect x="27" y="366.5" width="5.5" height="3"/><rect x="27" y="372.5" width="5.5" height="3"/><rect x="43" y="360.5" width="5.5" height="3"/><rect x="43" y="366.5" width="5.5" height="3"/><rect x="43" y="372.5" width="5.5" height="3"/><path d="M32.5,362H35.5V374H32.5M32.5,368H43M43,362H40V374H43" fill="none"/></g>
<rect class="cell" x="25" y="380" width="25.5" height="19"/>
<g fill="#fff" stroke="#777" stroke-width="0.35"><rect x="27" y="382" width="5" height="3"/><rect x="35.2" y="382" width="5" height="3"/><rect x="43.5" y="382" width="5" height="3"/><rect x="35.2" y="388" width="5" height="3"/><rect x="27" y="394" width="5" height="3"/><rect x="35.2" y="394" width="5" height="3"/><rect x="43.5" y="394" width="5" height="3"/><path d="M29.5,385V386.5H46V385M37.7,385V388M37.7,391V394M29.5,394V392.5H46V394" fill="none"/></g>
<use href="#tg" x="52.3" y="358.5"/><use href="#tg" x="52.3" y="380"/>
<rect class="cell" x="79.6" y="358.5" width="25.5" height="19"/><rect class="cell" x="79.6" y="380" width="25.5" height="19"/>
<rect class="cell" x="106.9" y="358.5" width="25.5" height="19"/><rect class="cell" x="106.9" y="380" width="25.5" height="19"/>
<rect class="cell" x="134.2" y="358.5" width="25.5" height="19"/><rect class="cell" x="134.2" y="380" width="25.5" height="19"/>
<use href="#tg" x="161.5" y="358.5"/><use href="#tg" x="161.5" y="380"/>
<use href="#tg" x="188.8" y="358.5"/><use href="#tg" x="188.8" y="380"/>
<use href="#tg" x="216.1" y="358.5"/><use href="#tg" x="216.1" y="380"/>
</g>
<g id="association-database">
<rect x="253" y="333" width="167" height="69" fill="#fbe4e4" stroke="#e8c4c4" stroke-width="0.6"/>
<rect class="cell" x="255.5" y="336.5" width="162" height="6.5"/>
<text class="dbh" x="336.5" y="341.2">Association Database</text>
<rect class="cell" x="255.5" y="346" width="25" height="9"/><text class="ch" x="268" y="351.3">Association</text>
<rect class="cell" x="283" y="346" width="25" height="9"/><text class="ch" x="295.5" y="349.9">Meta</text><text class="ch" x="295.5" y="352.9">Association</text>
<rect class="cell" x="310.5" y="346" width="25" height="9"/><text class="ch" x="323" y="349.9">Trans</text><text class="ch" x="323" y="352.9">Association</text>
<rect class="cell" x="338" y="346" width="25" height="9"/><text class="ch" x="350.5" y="349.9">Association</text><text class="ch" x="350.5" y="352.9">Table</text>
<rect class="cell" x="365.5" y="346" width="25" height="9"/><text class="ch" x="378" y="349.9">Meta Association</text><text class="ch" x="378" y="352.9">Table</text>
<rect class="cell" x="393" y="346" width="25" height="9"/><text class="ch" x="405.5" y="349.9">Trans Association</text><text class="ch" x="405.5" y="352.9">Table</text>
<rect class="cell" x="255.5" y="358.5" width="25" height="19"/><rect class="cell" x="255.5" y="380" width="25" height="19"/>
<rect class="cell" x="283" y="358.5" width="25" height="19"/><rect class="cell" x="283" y="380" width="25" height="19"/>
<rect class="cell" x="310.5" y="358.5" width="25" height="19"/><rect class="cell" x="310.5" y="380" width="25" height="19"/>
<use href="#tp" x="338" y="358.5"/><use href="#tp" x="338" y="380"/>
<use href="#tp" x="365.5" y="358.5"/><use href="#tp" x="365.5" y="380"/>
<use href="#tp" x="393" y="358.5"/><use href="#tp" x="393" y="380"/>
</g>
<g id="logic-database">
<rect x="426" y="333" width="176" height="69" fill="#deebf7" stroke="#bcd3ea" stroke-width="0.6"/>
<rect class="cell" x="429" y="336.5" width="170" height="6.5"/>
<text class="dbh" x="514" y="341.2">Logic Database</text>
<rect class="cell" x="429" y="346" width="25.5" height="9"/><text class="ch" x="441.75" y="351.3">Logic</text>
<rect class="cell" x="457.8" y="346" width="25.5" height="9"/><text class="ch" x="470.55" y="351.3">Meta Logic</text>
<rect class="cell" x="486.6" y="346" width="25.5" height="9"/><text class="ch" x="499.35" y="349.9">Trans Meta</text><text class="ch" x="499.35" y="352.9">Logic</text>
<rect class="cell" x="515.4" y="346" width="25.5" height="9"/><text class="ch" x="528.15" y="349.9">Association</text><text class="ch" x="528.15" y="352.9">Table</text>
<rect class="cell" x="544.2" y="346" width="25.5" height="9"/><text class="ch" x="556.95" y="349.9">Meta Association</text><text class="ch" x="556.95" y="352.9">Table</text>
<rect class="cell" x="573" y="346" width="25.5" height="9"/><text class="ch" x="585.75" y="349.9">Trans Association</text><text class="ch" x="585.75" y="352.9">Table</text>
<rect class="cell" x="429" y="358.5" width="25.5" height="19"/><rect class="cell" x="429" y="380" width="25.5" height="19"/>
<rect class="cell" x="457.8" y="358.5" width="25.5" height="19"/><rect class="cell" x="457.8" y="380" width="25.5" height="19"/>
<rect class="cell" x="486.6" y="358.5" width="25.5" height="19"/><rect class="cell" x="486.6" y="380" width="25.5" height="19"/>
<use href="#tb" x="515.4" y="358.5"/><use href="#tb" x="515.4" y="380"/>
<use href="#tb" x="544.2" y="358.5"/><use href="#tb" x="544.2" y="380"/>
<use href="#tb" x="573" y="358.5"/><use href="#tb" x="573" y="380"/>
</g>
</g>
</svg>
